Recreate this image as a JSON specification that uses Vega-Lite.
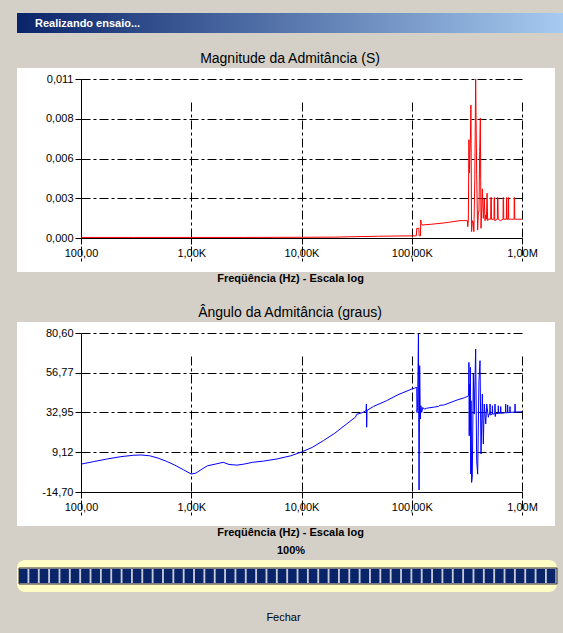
{
  "$schema": "https://vega.github.io/schema/vega-lite/v6.json",
  "background": "#d4d0c8",
  "padding": {"left": 12, "top": 13, "right": 0, "bottom": 11},
  "spacing": 19,
  "config": {
    "font": "Liberation Sans",
    "view": {"stroke": null, "fill": "white"},
    "title": {"font": "Liberation Sans", "fontSize": 14, "fontWeight": "normal", "color": "#000000", "offset": 2},
    "axis": {
      "domainColor": "#000000", "domainWidth": 1,
      "tickColor": "#000000", "tickSize": 6, "tickWidth": 1,
      "grid": true, "gridColor": "#000000", "gridDash": [9, 3, 3, 3], "gridOpacity": 1, "gridWidth": 1,
      "labelFont": "Liberation Sans", "labelFontSize": 11, "labelColor": "#000000",
      "titleFont": "Liberation Sans", "titleFontSize": 11, "titleFontWeight": "bold", "titleColor": "#000000"
    },
    "axisY": {"labelPadding": 2},
    "axisX": {"labelPadding": 3, "labelFlush": false, "titlePadding": 14, "titleX": 273}
  },
  "vconcat": [
    {
      "width": 546,
      "height": 20,
      "view": {"fill": null, "stroke": null},
      "title": {"text": "Realizando ensaio...", "anchor": "start", "dx": 18, "offset": -16, "color": "#ffffff", "fontSize": 11, "fontWeight": "bold"},
      "data": {"values": [{"janela": "Realizando ensaio..."}]},
      "mark": {"type": "rect", "color": {"gradient": "linear", "x1": 0, "x2": 1, "y1": 0, "y2": 0, "stops": [{"offset": 0, "color": "#0a246a"}, {"offset": 1, "color": "#a6caf0"}]}},
      "encoding": {}
    },
    {
      "spacing": 8,
      "vconcat": [
        {
          "spacing": 23,
          "vconcat": [
            {
              "width": 538,
              "height": 204,
              "title": {"text": "Magnitude da Admitância (S)", "dx": 4},
              "data": {"values": [
                {"frequencia": 100, "admitancia": 0.00004},
                {"frequencia": 300, "admitancia": 0.00004},
                {"frequencia": 1000, "admitancia": 0.00004},
                {"frequencia": 3000, "admitancia": 0.00004},
                {"frequencia": 10000, "admitancia": 0.00005},
                {"frequencia": 20000, "admitancia": 0.00006},
                {"frequencia": 30000, "admitancia": 0.00009},
                {"frequencia": 50000, "admitancia": 0.00012},
                {"frequencia": 80000, "admitancia": 0.00014},
                {"frequencia": 110000, "admitancia": 0.00015},
                {"frequencia": 111000, "admitancia": 0.00067},
                {"frequencia": 116000, "admitancia": 0.00067},
                {"frequencia": 116800, "admitancia": 0.00015},
                {"frequencia": 120000, "admitancia": 0.00015},
                {"frequencia": 120600, "admitancia": 0.00125},
                {"frequencia": 122000, "admitancia": 0.00100},
                {"frequencia": 124000, "admitancia": 0.00090},
                {"frequencia": 150000, "admitancia": 0.00095},
                {"frequencia": 200000, "admitancia": 0.00105},
                {"frequencia": 274000, "admitancia": 0.0012},
                {"frequencia": 320000, "admitancia": 0.0012},
                {"frequencia": 322000, "admitancia": 0.00078},
                {"frequencia": 326000, "admitancia": 0.0012},
                {"frequencia": 330000, "admitancia": 0.0068},
                {"frequencia": 334000, "admitancia": 0.0045},
                {"frequencia": 337000, "admitancia": 0.0059},
                {"frequencia": 341000, "admitancia": 0.0072},
                {"frequencia": 344000, "admitancia": 0.0092},
                {"frequencia": 349000, "admitancia": 0.00044},
                {"frequencia": 355000, "admitancia": 0.0012},
                {"frequencia": 361000, "admitancia": 0.0011},
                {"frequencia": 366000, "admitancia": 0.00044},
                {"frequencia": 373000, "admitancia": 0.0040},
                {"frequencia": 380000, "admitancia": 0.0110},
                {"frequencia": 388000, "admitancia": 0.0044},
                {"frequencia": 396000, "admitancia": 0.00055},
                {"frequencia": 402000, "admitancia": 0.0018},
                {"frequencia": 407000, "admitancia": 0.0018},
                {"frequencia": 413000, "admitancia": 0.0060},
                {"frequencia": 419000, "admitancia": 0.0083},
                {"frequencia": 422000, "admitancia": 0.0040},
                {"frequencia": 425000, "admitancia": 0.00067},
                {"frequencia": 431000, "admitancia": 0.0020},
                {"frequencia": 437000, "admitancia": 0.0034},
                {"frequencia": 446000, "admitancia": 0.00136},
                {"frequencia": 455000, "admitancia": 0.0027},
                {"frequencia": 462000, "admitancia": 0.0012},
                {"frequencia": 469000, "admitancia": 0.0016},
                {"frequencia": 476000, "admitancia": 0.0013},
                {"frequencia": 482000, "admitancia": 0.0031},
                {"frequencia": 488000, "admitancia": 0.0012},
                {"frequencia": 495000, "admitancia": 0.0013},
                {"frequencia": 520000, "admitancia": 0.0013},
                {"frequencia": 522000, "admitancia": 0.0028},
                {"frequencia": 527000, "admitancia": 0.0028},
                {"frequencia": 529000, "admitancia": 0.0013},
                {"frequencia": 557000, "admitancia": 0.0013},
                {"frequencia": 559000, "admitancia": 0.0028},
                {"frequencia": 563000, "admitancia": 0.0028},
                {"frequencia": 566000, "admitancia": 0.0012},
                {"frequencia": 598000, "admitancia": 0.0013},
                {"frequencia": 600000, "admitancia": 0.0028},
                {"frequencia": 605000, "admitancia": 0.0028},
                {"frequencia": 608000, "admitancia": 0.0013},
                {"frequencia": 640000, "admitancia": 0.0012},
                {"frequencia": 673000, "admitancia": 0.0013},
                {"frequencia": 675000, "admitancia": 0.0028},
                {"frequencia": 680000, "admitancia": 0.0028},
                {"frequencia": 683000, "admitancia": 0.0013},
                {"frequencia": 722000, "admitancia": 0.0013},
                {"frequencia": 724000, "admitancia": 0.0028},
                {"frequencia": 729000, "admitancia": 0.0013},
                {"frequencia": 748000, "admitancia": 0.0013},
                {"frequencia": 750000, "admitancia": 0.0028},
                {"frequencia": 755000, "admitancia": 0.0028},
                {"frequencia": 758000, "admitancia": 0.0013},
                {"frequencia": 800000, "admitancia": 0.0013},
                {"frequencia": 848000, "admitancia": 0.0013},
                {"frequencia": 850000, "admitancia": 0.0028},
                {"frequencia": 856000, "admitancia": 0.0028},
                {"frequencia": 859000, "admitancia": 0.0013},
                {"frequencia": 900000, "admitancia": 0.0013},
                {"frequencia": 1000000, "admitancia": 0.0013}
              ]},
              "mark": {"type": "line", "color": "#ff0000", "strokeWidth": 1},
              "encoding": {
                "x": {"field": "frequencia", "type": "quantitative", "scale": {"type": "log", "domain": [100, 1000000], "range": [64, 505]},
                  "axis": {"values": [100, 1000, 10000, 100000, 1000000], "title": "Freqüência (Hz) - Escala log", "offset": -34,
                    "labelExpr": "datum.value < 1000 ? '100,00' : datum.value < 1000000 ? replace(format(datum.value / 1000, '.2f'), '.', ',') + 'K' : '1,00M'"}},
                "y": {"field": "admitancia", "type": "quantitative", "scale": {"domain": [0, 0.011], "nice": false, "zero": false, "range": [170, 11]},
                  "axis": {"values": [0, 0.00275, 0.0055, 0.00825, 0.011], "title": null, "offset": -64,
                    "labelExpr": "replace(format(datum.value + 1e-9, '.3f'), '.', ',')"}}
              }
            },
            {
              "width": 538,
              "height": 204,
              "title": {"text": "Ângulo da Admitância (graus)", "dx": 4},
              "data": {"values": [
                {"frequencia": 100, "angulo": 2.0},
                {"frequencia": 130, "angulo": 3.5},
                {"frequencia": 170, "angulo": 5.0},
                {"frequencia": 230, "angulo": 6.5},
                {"frequencia": 300, "angulo": 7.3},
                {"frequencia": 350, "angulo": 7.5},
                {"frequencia": 420, "angulo": 7.0},
                {"frequencia": 500, "angulo": 5.6},
                {"frequencia": 600, "angulo": 3.6},
                {"frequencia": 700, "angulo": 1.6},
                {"frequencia": 850, "angulo": -1.4},
                {"frequencia": 1000, "angulo": -3.9},
                {"frequencia": 1100, "angulo": -3.4},
                {"frequencia": 1250, "angulo": -1.0},
                {"frequencia": 1400, "angulo": 1.0},
                {"frequencia": 1650, "angulo": 2.0},
                {"frequencia": 1950, "angulo": 3.1},
                {"frequencia": 2200, "angulo": 1.8},
                {"frequencia": 2600, "angulo": 1.4},
                {"frequencia": 3000, "angulo": 2.0},
                {"frequencia": 3600, "angulo": 3.1},
                {"frequencia": 4500, "angulo": 3.8},
                {"frequencia": 6000, "angulo": 5.1},
                {"frequencia": 8000, "angulo": 7.0},
                {"frequencia": 10000, "angulo": 9.3},
                {"frequencia": 12500, "angulo": 12.0},
                {"frequencia": 15800, "angulo": 16.1},
                {"frequencia": 20000, "angulo": 20.5},
                {"frequencia": 25700, "angulo": 26.1},
                {"frequencia": 31000, "angulo": 30.3},
                {"frequencia": 31600, "angulo": 31.8},
                {"frequencia": 36000, "angulo": 33.0},
                {"frequencia": 38500, "angulo": 34.0},
                {"frequencia": 38800, "angulo": 38.0},
                {"frequencia": 39000, "angulo": 24.1},
                {"frequencia": 39300, "angulo": 34.2},
                {"frequencia": 45000, "angulo": 36.6},
                {"frequencia": 59000, "angulo": 40.0},
                {"frequencia": 75000, "angulo": 43.6},
                {"frequencia": 100000, "angulo": 47.0},
                {"frequencia": 111000, "angulo": 48.0},
                {"frequencia": 111500, "angulo": 33.0},
                {"frequencia": 113000, "angulo": 36.0},
                {"frequencia": 115000, "angulo": 80.0},
                {"frequencia": 116500, "angulo": -13.5},
                {"frequencia": 118000, "angulo": 61.0},
                {"frequencia": 119500, "angulo": 29.0},
                {"frequencia": 121000, "angulo": 37.0},
                {"frequencia": 123000, "angulo": 33.0},
                {"frequencia": 126000, "angulo": 36.0},
                {"frequencia": 130000, "angulo": 35.0},
                {"frequencia": 136000, "angulo": 35.5},
                {"frequencia": 160000, "angulo": 36.2},
                {"frequencia": 175000, "angulo": 36.6},
                {"frequencia": 180000, "angulo": 37.3},
                {"frequencia": 195000, "angulo": 37.4},
                {"frequencia": 257000, "angulo": 40.4},
                {"frequencia": 300000, "angulo": 41.8},
                {"frequencia": 325000, "angulo": 42.8},
                {"frequencia": 328000, "angulo": 43.0},
                {"frequencia": 330000, "angulo": 63.0},
                {"frequencia": 332000, "angulo": 19.0},
                {"frequencia": 335000, "angulo": 50.0},
                {"frequencia": 337000, "angulo": 22.0},
                {"frequencia": 340000, "angulo": 60.0},
                {"frequencia": 343000, "angulo": -3.9},
                {"frequencia": 345000, "angulo": 40.0},
                {"frequencia": 349000, "angulo": -9.0},
                {"frequencia": 354000, "angulo": -5.9},
                {"frequencia": 362000, "angulo": 56.0},
                {"frequencia": 369000, "angulo": 32.0},
                {"frequencia": 380000, "angulo": 71.0},
                {"frequencia": 388000, "angulo": 4.1},
                {"frequencia": 396000, "angulo": -4.0},
                {"frequencia": 407000, "angulo": 52.0},
                {"frequencia": 416000, "angulo": 64.0},
                {"frequencia": 425000, "angulo": 8.1},
                {"frequencia": 437000, "angulo": 44.0},
                {"frequencia": 446000, "angulo": 14.1},
                {"frequencia": 455000, "angulo": 38.0},
                {"frequencia": 469000, "angulo": 26.1},
                {"frequencia": 479000, "angulo": 38.0},
                {"frequencia": 495000, "angulo": 30.1},
                {"frequencia": 502000, "angulo": 32.0},
                {"frequencia": 511000, "angulo": 32.0},
                {"frequencia": 513000, "angulo": 38.0},
                {"frequencia": 516000, "angulo": 31.5},
                {"frequencia": 537000, "angulo": 32.0},
                {"frequencia": 539000, "angulo": 37.0},
                {"frequencia": 542000, "angulo": 32.0},
                {"frequencia": 567000, "angulo": 32.2},
                {"frequencia": 569000, "angulo": 38.0},
                {"frequencia": 572000, "angulo": 30.5},
                {"frequencia": 575000, "angulo": 32.2},
                {"frequencia": 607000, "angulo": 32.4},
                {"frequencia": 610000, "angulo": 37.0},
                {"frequencia": 613000, "angulo": 32.4},
                {"frequencia": 638000, "angulo": 32.5},
                {"frequencia": 641000, "angulo": 36.5},
                {"frequencia": 644000, "angulo": 32.5},
                {"frequencia": 708000, "angulo": 32.8},
                {"frequencia": 711000, "angulo": 38.0},
                {"frequencia": 714000, "angulo": 32.8},
                {"frequencia": 738000, "angulo": 32.8},
                {"frequencia": 741000, "angulo": 37.5},
                {"frequencia": 745000, "angulo": 32.8},
                {"frequencia": 775000, "angulo": 33.0},
                {"frequencia": 778000, "angulo": 36.5},
                {"frequencia": 782000, "angulo": 33.0},
                {"frequencia": 862000, "angulo": 33.2},
                {"frequencia": 865000, "angulo": 38.0},
                {"frequencia": 869000, "angulo": 33.2},
                {"frequencia": 1000000, "angulo": 33.4}
              ]},
              "mark": {"type": "line", "color": "#0000ff", "strokeWidth": 1},
              "encoding": {
                "x": {"field": "frequencia", "type": "quantitative", "scale": {"type": "log", "domain": [100, 1000000], "range": [64, 505]},
                  "axis": {"values": [100, 1000, 10000, 100000, 1000000], "title": "Freqüência (Hz) - Escala log", "offset": -34,
                    "labelExpr": "datum.value < 1000 ? '100,00' : datum.value < 1000000 ? replace(format(datum.value / 1000, '.2f'), '.', ',') + 'K' : '1,00M'"}},
                "y": {"field": "angulo", "type": "quantitative", "scale": {"domain": [-14.7, 80.6], "nice": false, "zero": false, "range": [170, 11]},
                  "axis": {"values": [-14.7, 9.125, 32.95, 56.775, 80.6], "title": null, "offset": -64,
                    "labelExpr": "replace(replace(format(floor(datum.value * 100 + 1e-6) / 100, '.2f'), '.', ','), '\u2212', '-')"}}
              }
            }
          ]
        },
        {
          "width": 540,
          "height": 32,
          "view": {"fill": "#fffdc4", "stroke": null, "cornerRadius": 8},
          "title": {"text": "100%", "fontSize": 11, "fontWeight": "bold", "dx": 4, "offset": 4},
          "data": {"values": [{"tarefa": "ensaio", "inicio": 0, "progresso": 100}]},
          "layer": [
            {
              "mark": {"type": "bar", "color": "#c4cad8", "stroke": "#303030", "strokeWidth": 1},
              "encoding": {
                "y": {"field": "tarefa", "type": "nominal", "scale": {"paddingInner": 0, "paddingOuter": 0.5}, "axis": null},
                "x": {"field": "progresso", "type": "quantitative", "scale": {"domain": [0, 100], "range": [2, 540]},
                  "axis": {"grid": false, "domain": false, "ticks": false, "labels": false, "title": "Fechar", "titleFontWeight": "normal", "titlePadding": 19, "titleX": 266, "offset": 0}}
              }
            },
            {
              "mark": {"type": "rule", "color": "#0a246a", "strokeWidth": 14, "strokeDash": [8.5, 1.85]},
              "encoding": {
                "y": {"field": "tarefa", "type": "nominal"},
                "x": {"field": "inicio", "type": "quantitative"},
                "x2": {"field": "progresso"}
              }
            }
          ]
        }
      ]
    }
  ]
}
